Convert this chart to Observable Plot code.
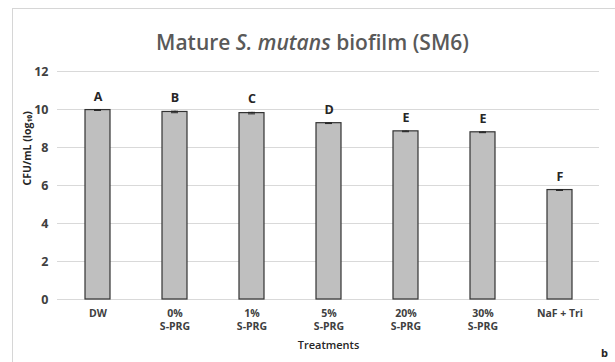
<!DOCTYPE html>
<html>
<head>
<meta charset="utf-8">
<script src="https://cdn.jsdelivr.net/npm/d3@7"></script>
<script src="https://cdn.jsdelivr.net/npm/@observablehq/plot@0.6"></script>
<style>
  html, body { margin: 0; padding: 0; background: #fff; }
  #wrap { position: relative; width: 615px; height: 362px; overflow: hidden; font-family: "Open Sans", sans-serif; background: #fff; }
  #frame { position: absolute; left: 12px; top: 8px; width: 640px; height: 400px; border: 1px solid #d6d6d6; box-sizing: border-box; }
  #title { position: absolute; left: 0; top: 27px; width: 625px; text-align: center; font-size: 21px; font-weight: 600; color: #595959; line-height: 30px; }
  #panel { position: absolute; left: 601px; top: 345px; font-size: 11px; font-weight: 700; color: #262626; }
  #chart { position: absolute; left: 0; top: 0; }
</style>
</head>
<body>
<div id="wrap">
  <div id="frame"></div>
  <div id="chart"></div>
  <div id="title">Mature <i>S. mutans</i> biofilm (SM6)</div>
  <div id="panel">b</div>
</div>
<script>
const treatments = ["DW", "0%\nS-PRG", "1%\nS-PRG", "5%\nS-PRG", "20%\nS-PRG", "30%\nS-PRG", "NaF + Tri"];
const means = [9.97, 9.87, 9.81, 9.28, 8.85, 8.80, 5.76];
const errors = [0.02, 0.04, 0.04, 0.02, 0.02, 0.02, 0.02];
const letters = ["A", "B", "C", "D", "E", "E", "F"];
const yTicks = [0, 2, 4, 6, 8, 10, 12];
const yTitle = "CFU/mL (log₁₀)";
const xTitle = "Treatments";

const data = treatments.map((t, i) => ({t, m: means[i], e: errors[i], l: letters[i]}));

const chart = Plot.plot({
  width: 615,
  height: 362,
  marginLeft: 57,
  marginRight: 16,
  marginTop: 71,
  marginBottom: 63,
  style: {fontFamily: "Open Sans, sans-serif", background: "transparent", color: "#404040"},
  x: {domain: treatments, paddingInner: 0.68, paddingOuter: 0.34, label: null},
  y: {domain: [0, 12], label: null},
  marks: [
    Plot.gridY(yTicks, {stroke: "#d9d9d9", strokeOpacity: 1, strokeWidth: 1}),
    Plot.barY(data, {x: "t", y: "m", fill: "#bfbfbf", stroke: "#333333", strokeWidth: 1.2}),
    Plot.ruleX(data, {x: "t", y1: d => d.m - d.e, y2: d => d.m + d.e, stroke: "#262626", strokeWidth: 1}),
    Plot.tickY(data, {x: "t", y: d => d.m + d.e, stroke: "#262626", strokeWidth: 1, insetLeft: 9, insetRight: 9}),
    Plot.tickY(data, {x: "t", y: d => d.m - d.e, stroke: "#262626", strokeWidth: 1, insetLeft: 9, insetRight: 9}),
    Plot.text(data, {x: "t", y: d => d.m + d.e, text: "l", dy: -13, fontSize: 12.5, fontWeight: 700, fill: "#262626"}),
    Plot.axisY({ticks: yTicks, tickSize: 0, tickPadding: 9, fontSize: 12.5, fontWeight: 700, fill: "#404040", label: null}),
    Plot.axisX({tickSize: 0, tickPadding: 8, fontSize: 10.5, fontWeight: 700, fill: "#404040", label: null, lineHeight: 1.25}),
    Plot.text([yTitle], {frameAnchor: "left", dx: -30, rotate: -90, text: d => d, fontSize: 10.5, fontWeight: 700, fill: "#262626"}),
    Plot.text([xTitle], {frameAnchor: "bottom", dy: 49, text: d => d, fontSize: 11, fontWeight: 600, fill: "#262626"})
  ]
});
document.getElementById("chart").appendChild(chart);
</script>
</body>
</html>
